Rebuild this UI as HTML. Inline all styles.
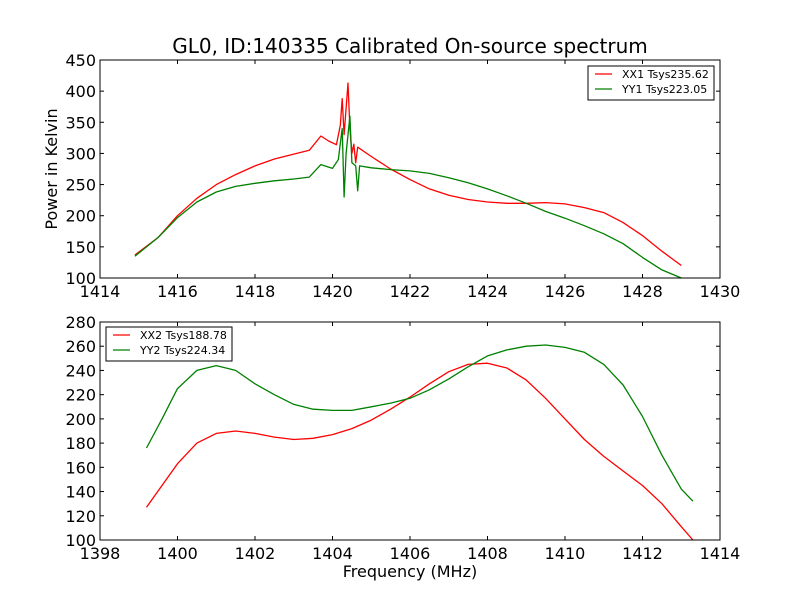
<!DOCTYPE html>
<html><head><meta charset="utf-8"><style>
body{margin:0;background:#fff;}
svg text{font-family:"DejaVu Sans","Liberation Sans",sans-serif;fill:#000;}
</style></head><body>
<svg id="c" width="800" height="600" xmlns="http://www.w3.org/2000/svg"></svg>
<script>
const topFreqXX1=[1414.9,1415.5,1416,1416.5,1417,1417.5,1418,1418.5,1419,1419.4,1419.7,1419.9,1420.1,1420.2,1420.25,1420.3,1420.4,1420.45,1420.5,1420.55,1420.6,1420.65,1421,1421.5,1422,1422.5,1423,1423.5,1424,1424.5,1425,1425.5,1426,1426.5,1427,1427.5,1428,1428.5,1429];
const topXX1=[137,165,200,228,250,266,280,291,299,305,328,320,314,345,388,330,413,340,300,315,285,310,295,275,258,243,233,226,222,220,220,221,219,213,205,189,168,143,120];
const topFreqYY1=[1414.9,1415.5,1416,1416.5,1417,1417.5,1418,1418.5,1419,1419.4,1419.7,1420,1420.15,1420.25,1420.3,1420.35,1420.45,1420.5,1420.6,1420.65,1420.7,1421,1421.5,1422,1422.5,1423,1423.5,1424,1424.5,1425,1425.5,1426,1426.5,1427,1427.5,1428,1428.5,1429];
const topYY1=[135,165,197,222,238,247,252,256,259,262,282,276,290,340,230,300,360,285,280,240,280,277,274,272,268,261,253,243,232,220,207,196,184,171,155,133,113,100];
const botFreq=[1399.2,1399.6,1400,1400.5,1401,1401.5,1402,1402.5,1403,1403.5,1404,1404.5,1405,1405.5,1406,1406.5,1407,1407.5,1408,1408.5,1409,1409.5,1410,1410.5,1411,1411.5,1412,1412.5,1413,1413.3];
const botXX2=[127,145,163,180,188,190,188,185,183,184,187,192,199,208,218,229,239,245,246,242,232,217,200,183,169,157,145,130,111,100];
const botYY2=[176,200,225,240,244,240,229,220,212,208,207,207,210,213,217,224,233,243,252,257,260,261,259,255,245,228,202,170,142,132];
const topXTicks=[1414,1416,1418,1420,1422,1424,1426,1428,1430];
const topYTicks=[100,150,200,250,300,350,400,450];
const botXTicks=[1398,1400,1402,1404,1406,1408,1410,1412,1414];
const botYTicks=[100,120,140,160,180,200,220,240,260,280];

const S=document.getElementById('c');const NS='http://www.w3.org/2000/svg';
function el(t,a,txt){const e=document.createElementNS(NS,t);for(const k in a)e.setAttribute(k,a[k]);if(txt!==undefined)e.textContent=txt;S.appendChild(e);return e;}
function panel(y0,y1,xmin,xmax,ymin,ymax,xt,yt,series,leg,name){
  const x0=100,x1=720;
  const X=v=>x0+(v-xmin)/(xmax-xmin)*(x1-x0);
  const Y=v=>y1-(v-ymin)/(ymax-ymin)*(y1-y0);
  series.forEach(s=>{
    const p=s.f.map((f,i)=>X(f).toFixed(1)+','+Y(s.v[i]).toFixed(1)).join(' ');
    const l=el('polyline',{points:p,fill:'none',stroke:s.c,'stroke-width':1.3,'stroke-linejoin':'round'});
    
    
  });
  const fr=el('rect',{x:x0,y:y0,width:x1-x0,height:y1-y0,fill:'none',stroke:'#000','stroke-width':1});
  
  
  xt.forEach(t=>{const x=X(t);
    el('line',{x1:x,x2:x,y1:y1,y2:y1-4,stroke:'#000'});el('line',{x1:x,x2:x,y1:y0,y2:y0+4,stroke:'#000'});
    const tx=el('text',{x:x,y:y1+19,'text-anchor':'middle','font-size':16},t);
    
    
  });
  yt.forEach(t=>{const y=Y(t);
    el('line',{x1:x0,x2:x0+4,y1:y,y2:y,stroke:'#000'});el('line',{x1:x1,x2:x1-4,y1:y,y2:y,stroke:'#000'});
    const tx=el('text',{x:x0-4,y:y+6,'text-anchor':'end','font-size':16},t);
    
    
  });
  const lb=el('rect',{x:leg.x,y:leg.y,width:126,height:34,fill:'#fff',stroke:'#000'});
  
  
  series.forEach((s,i)=>{const yy=leg.y+8+i*15;
    el('line',{x1:leg.x+7,x2:leg.x+24,y1:yy,y2:yy,stroke:s.c,'stroke-width':1.3});
    const t=el('text',{x:leg.x+34,y:yy+4,'font-size':11},s.label);
    
    
  });
}
panel(60,278,1414,1430,100,450,topXTicks,topYTicks,[{f:topFreqXX1,v:topXX1,c:'#ff0000',n:'xx1-line',label:'XX1 Tsys235.62'},{f:topFreqYY1,v:topYY1,c:'#008000',n:'yy1-line',label:'YY1 Tsys223.05'}],{x:588,y:66},'top');
panel(322,540,1398,1414,100,280,botXTicks,botYTicks,[{f:botFreq,v:botXX2,c:'#ff0000',n:'xx2-line',label:'XX2 Tsys188.78'},{f:botFreq,v:botYY2,c:'#008000',n:'yy2-line',label:'YY2 Tsys224.34'}],{x:106,y:327},'bottom');
const ti=el('text',{x:410,y:53,'text-anchor':'middle','font-size':20},'GL0, ID:140335 Calibrated On-source spectrum');


const yl=el('text',{x:0,y:0,'text-anchor':'middle','font-size':16,transform:'translate(57,169) rotate(-90)'},'Power in Kelvin');


const xl=el('text',{x:410,y:577,'text-anchor':'middle','font-size':16},'Frequency (MHz)');


</script>
</body></html>
